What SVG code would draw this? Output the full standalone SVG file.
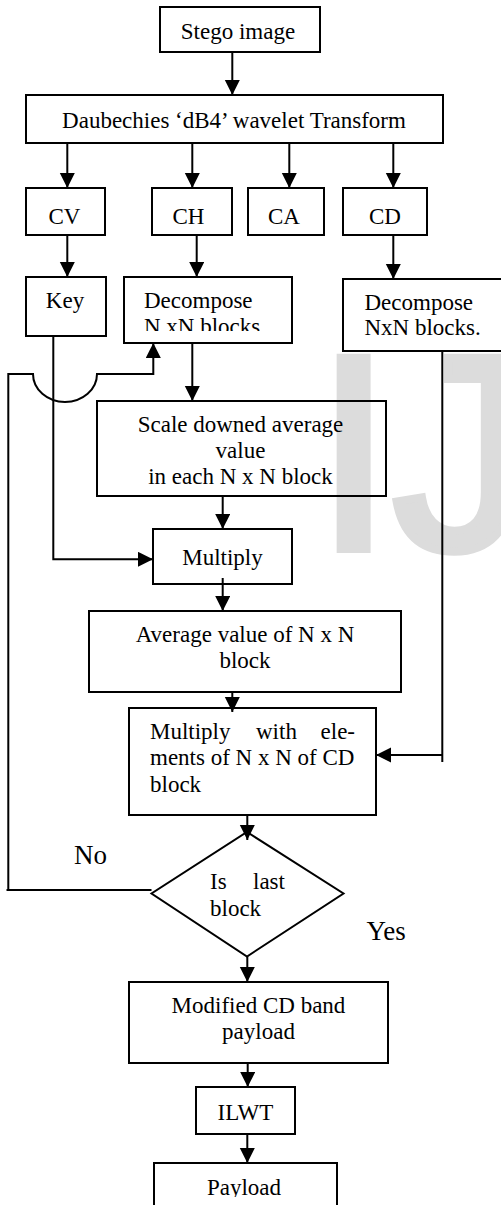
<svg xmlns="http://www.w3.org/2000/svg" width="501" height="1205" viewBox="0 0 501 1205">
<style>
.box{fill:none;stroke:#000;stroke-width:2}
.t{font-family:"Liberation Serif","Times New Roman",serif;font-size:23px;fill:#000}
.c{text-anchor:middle}
.big{font-size:27px}
.ln{fill:none;stroke:#000;stroke-width:2}
.wm{font-family:"Liberation Sans",Arial,sans-serif;font-size:278px;fill:#dcdcdc;stroke:#dcdcdc;stroke-width:8;stroke-linejoin:miter}
</style>
<defs>
<marker id="ah" markerUnits="userSpaceOnUse" markerWidth="16" markerHeight="16" refX="15" refY="7.5" orient="auto">
<path d="M0,0 L15,7.5 L0,15 z" fill="#000"/>
</marker>
<clipPath id="clipDec"><rect x="124" y="277" width="168" height="54"/></clipPath>
<clipPath id="clipPay"><rect x="154" y="1163" width="183" height="34"/></clipPath>
</defs>
<rect width="501" height="1205" fill="#fff"/>
<text class="wm" x="315" y="549">IJ</text>

<g id="stego"><rect class="box" x="160" y="7" width="160" height="45"/><text class="t c" x="238" y="39">Stego image</text></g>
<g id="dwt"><rect class="box" x="26" y="95" width="417" height="48"/><text class="t c" x="234" y="127.5">Daubechies ‘dB4’ wavelet Transform</text></g>
<g id="cv"><rect class="box" x="26" y="188" width="79" height="47"/><text class="t c" x="64.5" y="224">CV</text></g>
<g id="ch"><rect class="box" x="152" y="188" width="80" height="47"/><text class="t c" x="188.5" y="224">CH</text></g>
<g id="ca"><rect class="box" x="248" y="188" width="76" height="47"/><text class="t c" x="284" y="224">CA</text></g>
<g id="cd"><rect class="box" x="343" y="188" width="84" height="47"/><text class="t c" x="385" y="224">CD</text></g>
<g id="key"><rect class="box" x="26" y="277" width="80" height="59"/><text class="t c" x="65" y="308">Key</text></g>
<g id="decomp1"><rect class="box" x="124" y="277" width="168" height="66"/><g clip-path="url(#clipDec)"><text class="t" x="144" y="307.5">Decompose</text><text class="t" x="144" y="333.5">N xN blocks</text></g></g>
<g id="decomp2"><rect class="box" x="343" y="279" width="170" height="72"/><text class="t" x="364.5" y="309.5">Decompose</text><text class="t" x="364.5" y="335">NxN blocks.</text></g>
<g id="scale"><rect class="box" x="97" y="401" width="289" height="95"/><text class="t c" x="240.5" y="431.5">Scale downed average</text><text class="t c" x="240.5" y="458">value</text><text class="t c" x="240.5" y="484">in each N x N block</text></g>
<g id="multiply"><rect class="box" x="153" y="529" width="139" height="55"/><text class="t c" x="222.5" y="565">Multiply</text></g>
<g id="average"><rect class="box" x="89" y="611" width="312" height="81"/><text class="t c" x="245" y="641.5">Average value of N x N</text><text class="t c" x="245" y="668">block</text></g>
<g id="multwith"><rect class="box" x="129" y="708" width="247" height="107"/><text class="t" x="150" y="738.5">Multiply</text><text class="t" x="256" y="738.5">with</text><text class="t" x="355" y="738.5" text-anchor="end">ele-</text><text class="t" x="150" y="765">ments of N x N of CD</text><text class="t" x="150" y="791.5">block</text></g>
<g id="decision"><polygon class="box" points="247,832 343.5,893.5 247,956.5 151.5,893.5"/><text class="t" x="210" y="889">Is</text><text class="t" x="253" y="889">last</text><text class="t" x="210" y="916">block</text></g>
<g id="modified"><rect class="box" x="129" y="982" width="259" height="81"/><text class="t c" x="258.5" y="1013">Modified CD band</text><text class="t c" x="258.5" y="1039">payload</text></g>
<g id="ilwt"><rect class="box" x="196" y="1087" width="99" height="47"/><text class="t c" x="245.5" y="1120">ILWT</text></g>
<g id="payload"><rect class="box" x="154" y="1163" width="183" height="60"/><g clip-path="url(#clipPay)"><text class="t c" x="244" y="1195">Payload</text></g></g>
<g id="labels"><text class="t big" x="74" y="864">No</text><text class="t big" x="366.5" y="940">Yes</text></g>

<g id="connectors">
<path class="ln" d="M232.3,52 V95" marker-end="url(#ah)"/>
<path class="ln" d="M67.3,143 V188" marker-end="url(#ah)"/>
<path class="ln" d="M192.3,143 V188" marker-end="url(#ah)"/>
<path class="ln" d="M289.3,143 V188" marker-end="url(#ah)"/>
<path class="ln" d="M393.3,143 V188" marker-end="url(#ah)"/>
<path class="ln" d="M67.3,235 V277" marker-end="url(#ah)"/>
<path class="ln" d="M196.7,235 V277" marker-end="url(#ah)"/>
<path class="ln" d="M393.3,235 V279" marker-end="url(#ah)"/>
<path class="ln" d="M192.3,343 V401" marker-end="url(#ah)"/>
<path class="ln" d="M53.3,336 V559.3 H153" marker-end="url(#ah)"/>
<path class="ln" d="M442.3,351 V762"/>
<path class="ln" d="M442.3,755 H376" marker-end="url(#ah)"/>
<path class="ln" d="M222.7,496 V529" marker-end="url(#ah)"/>
<path class="ln" d="M222.7,578 V611" marker-end="url(#ah)"/>
<path class="ln" d="M232.3,692 V712" marker-end="url(#ah)"/>
<path class="ln" d="M247.3,815 V840" marker-end="url(#ah)"/>
<path class="ln" d="M151.5,890 H6.5 M8.3,891 V374 H33 A32,28 0 0 0 97,374 H153.3 V343" marker-end="url(#ah)"/>
<path class="ln" d="M247.3,956.5 V982" marker-end="url(#ah)"/>
<path class="ln" d="M247.7,1063 V1087" marker-end="url(#ah)"/>
<path class="ln" d="M247.3,1134 V1163" marker-end="url(#ah)"/>
</g>
</svg>
